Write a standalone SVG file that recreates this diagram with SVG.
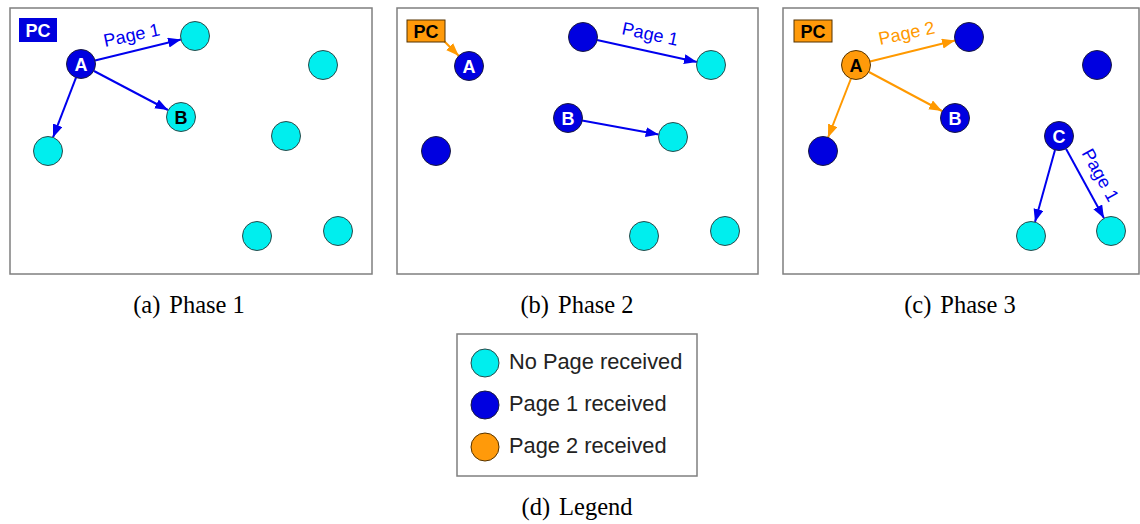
<svg xmlns="http://www.w3.org/2000/svg" width="1140" height="524" viewBox="0 0 1140 524">
<style>
.frame{fill:#fff;stroke:#7f7f7f;stroke-width:1.5}
.n0{fill:#00eeee;stroke:#2a4a4a;stroke-width:1}
.n1{fill:#0000e0;stroke:#1a1a40;stroke-width:1}
.n2{fill:#ff9a0a;stroke:#553300;stroke-width:1}
.lbl{font-family:"Liberation Sans",Arial,sans-serif;font-weight:bold;font-size:18px;text-anchor:middle}
.w{fill:#fff}.k{fill:#000}
.eb{stroke:#0000ee;stroke-width:2;fill:none;marker-end:url(#ab)}
.eo{stroke:#ff9900;stroke-width:2;fill:none;marker-end:url(#ao)}
.pg{font-family:"Liberation Sans",Arial,sans-serif;font-size:18px;text-anchor:middle}
.cap{font-family:"Liberation Serif","Times New Roman",serif;font-size:24.5px;fill:#000;text-anchor:middle}
.leg{font-family:"Liberation Sans",Arial,sans-serif;font-size:21.8px;fill:#222}
</style>
<defs>
<marker id="ab" markerUnits="userSpaceOnUse" markerWidth="14" markerHeight="11" refX="13" refY="5" orient="auto"><path d="M0,0 L13,5 L0,10 z" fill="#0000ee"/></marker>
<marker id="ao" markerUnits="userSpaceOnUse" markerWidth="14" markerHeight="11" refX="13" refY="5" orient="auto"><path d="M0,0 L13,5 L0,10 z" fill="#ff9900"/></marker>
</defs>
<rect class="frame" x="10" y="8" width="362" height="266"/>
<rect class="frame" x="397" y="8" width="361" height="266"/>
<rect class="frame" x="783" y="8" width="356" height="266"/>
<g id="connectors">
<line class="eb" x1="95" y1="60.5" x2="181" y2="39.5"/>
<line class="eb" x1="94" y1="71" x2="168" y2="110"/>
<line class="eb" x1="76" y1="77.6" x2="53" y2="137.4"/>
<line class="eo" x1="444" y1="41" x2="458.7" y2="55.7"/>
<line class="eb" x1="597" y1="40" x2="697" y2="62"/>
<line class="eb" x1="582" y1="120.6" x2="658.7" y2="134.4"/>
<line class="eo" x1="870" y1="61.5" x2="955" y2="40.5"/>
<line class="eo" x1="869" y1="72" x2="942" y2="111"/>
<line class="eo" x1="851" y1="78.5" x2="828" y2="137.5"/>
<line class="eb" x1="1055" y1="150" x2="1035" y2="222"/>
<line class="eb" x1="1066" y1="148.7" x2="1104" y2="218.3"/>
<text class="pg" fill="#0000ee" transform="translate(133,41) rotate(-12)">Page 1</text>
<text class="pg" fill="#0000ee" transform="translate(649,40) rotate(12)">Page 1</text>
<text class="pg" fill="#ff9900" transform="translate(908,39) rotate(-12)">Page 2</text>
<text class="pg" fill="#0000ee" transform="translate(1095,178) rotate(61)">Page 1</text>
</g>
<g id="p1-pc"><rect x="19" y="18" width="38" height="24" fill="#0000dd"/><text class="lbl w" x="38" y="36.5">PC</text></g>
<g id="p1-A"><circle class="n1" cx="81" cy="64" r="14.5"/><text class="lbl w" x="81" y="70.5">A</text></g>
<g id="p1-n1"><circle class="n0" cx="195" cy="36" r="14.5"/></g>
<g id="p1-n2"><circle class="n0" cx="323" cy="65" r="14.5"/></g>
<g id="p1-B"><circle class="n0" cx="181" cy="117" r="14.5"/><text class="lbl k" x="181" y="123.5">B</text></g>
<g id="p1-n3"><circle class="n0" cx="48" cy="151" r="14.5"/></g>
<g id="p1-n4"><circle class="n0" cx="286" cy="136" r="14.5"/></g>
<g id="p1-n5"><circle class="n0" cx="257" cy="236" r="14.5"/></g>
<g id="p1-n6"><circle class="n0" cx="338" cy="231" r="14.5"/></g>
<g id="p2-pc"><rect x="407" y="20" width="38" height="22" fill="#ff9a0a" stroke="#553300" stroke-width="1"/><text class="lbl k" x="426" y="37.5">PC</text></g>
<g id="p2-A"><circle class="n1" cx="469" cy="66" r="14.5"/><text class="lbl w" x="469" y="72.5">A</text></g>
<g id="p2-n1"><circle class="n1" cx="583" cy="37" r="14.5"/></g>
<g id="p2-n2"><circle class="n0" cx="711" cy="65" r="14.5"/></g>
<g id="p2-B"><circle class="n1" cx="568" cy="118" r="14.5"/><text class="lbl w" x="568" y="124.5">B</text></g>
<g id="p2-n3"><circle class="n1" cx="436" cy="151" r="14.5"/></g>
<g id="p2-n4"><circle class="n0" cx="673" cy="137" r="14.5"/></g>
<g id="p2-n5"><circle class="n0" cx="644" cy="236" r="14.5"/></g>
<g id="p2-n6"><circle class="n0" cx="725" cy="231" r="14.5"/></g>
<g id="p3-pc"><rect x="794" y="20" width="38" height="22" fill="#ff9a0a" stroke="#553300" stroke-width="1"/><text class="lbl k" x="813" y="37.5">PC</text></g>
<g id="p3-A"><circle class="n2" cx="856" cy="65" r="14.5"/><text class="lbl k" x="856" y="71.5">A</text></g>
<g id="p3-n1"><circle class="n1" cx="969" cy="37" r="14.5"/></g>
<g id="p3-n2"><circle class="n1" cx="1097" cy="65" r="14.5"/></g>
<g id="p3-B"><circle class="n1" cx="955" cy="118" r="14.5"/><text class="lbl w" x="955" y="124.5">B</text></g>
<g id="p3-n3"><circle class="n1" cx="823" cy="151" r="14.5"/></g>
<g id="p3-C"><circle class="n1" cx="1059" cy="136" r="14.5"/><text class="lbl w" x="1059" y="142.5">C</text></g>
<g id="p3-n5"><circle class="n0" cx="1031" cy="236" r="14.5"/></g>
<g id="p3-n6"><circle class="n0" cx="1111" cy="231" r="14.5"/></g>
<text class="cap" x="189" y="313">(a)<tspan dx="9">Phase 1</tspan></text>
<text class="cap" x="577" y="313">(b)<tspan dx="9">Phase 2</tspan></text>
<text class="cap" x="960" y="313">(c)<tspan dx="9">Phase 3</tspan></text>
<g id="legend">
<rect x="457" y="334" width="240" height="142" fill="#fff" stroke="#7f7f7f" stroke-width="1.5"/>
<circle class="n0" cx="485" cy="363" r="14"/>
<circle class="n1" cx="485" cy="405" r="14"/>
<circle class="n2" cx="485" cy="447" r="14"/>
<text class="leg" x="509" y="369">No Page received</text>
<text class="leg" x="509" y="411">Page 1 received</text>
<text class="leg" x="509" y="453">Page 2 received</text>
</g>
<text class="cap" x="577" y="515">(d)<tspan dx="9">Legend</tspan></text>
</svg>
